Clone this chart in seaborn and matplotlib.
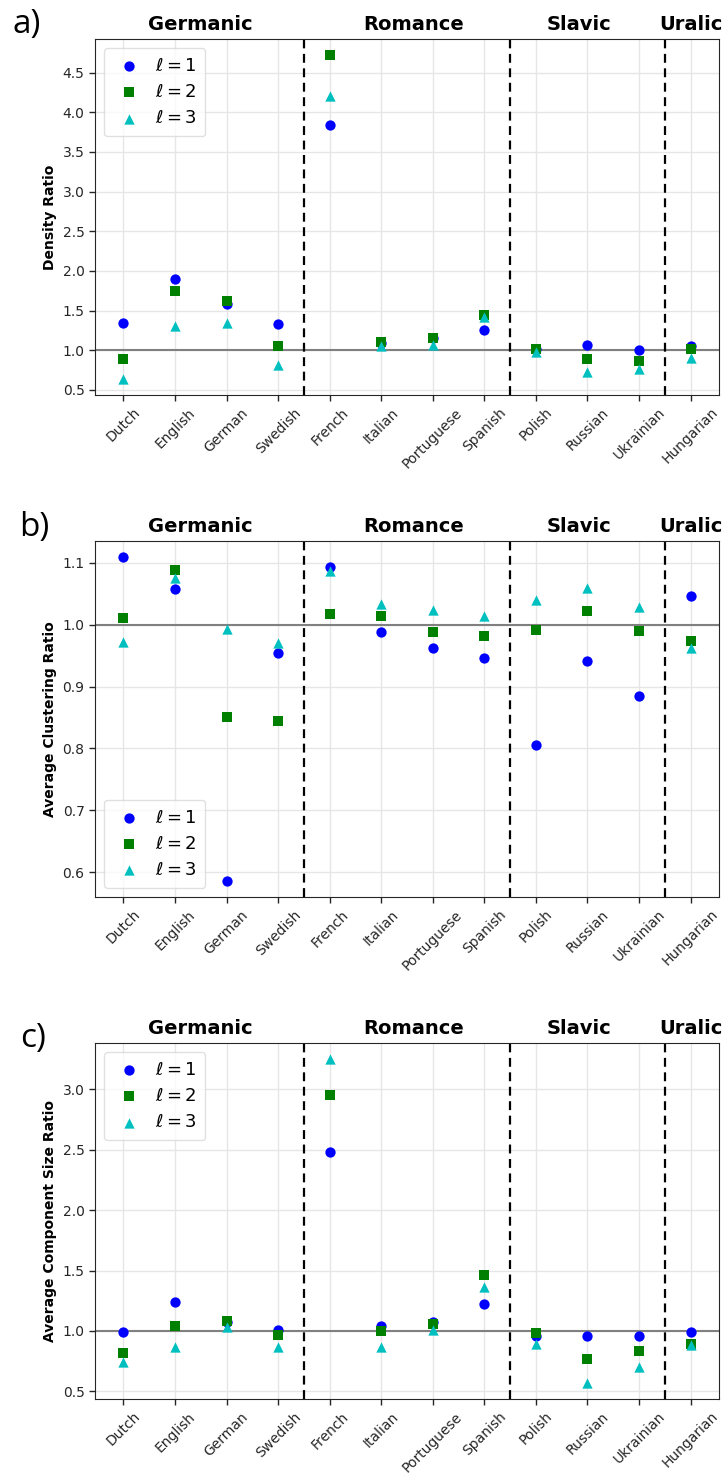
import numpy as np
import pandas as pd
import matplotlib
matplotlib.use("Agg")
import matplotlib.pyplot as plt
import matplotlib.transforms as mtransforms
import seaborn as sns

languages = ["Dutch", "English", "German", "Swedish", "French", "Italian",
             "Portuguese", "Spanish", "Polish", "Russian", "Ukrainian", "Hungarian"]
families = ["Germanic", "Romance", "Slavic", "Uralic"]
family_label_x = [1.5, 5.63, 8.83, 11.0]
family_bounds = [3.5, 7.5, 10.5]
levels = [r"$\ell = 1$", r"$\ell = 2$", r"$\ell = 3$"]

density_l1 = [1.34, 1.90, 1.58, 1.33, 3.84, 1.09, 1.15, 1.26, 1.02, 1.07, 1.00, 1.05]
density_l2 = [0.89, 1.75, 1.62, 1.05, 4.72, 1.10, 1.15, 1.44, 1.02, 0.89, 0.87, 1.01]
density_l3 = [0.64, 1.31, 1.34, 0.81, 4.21, 1.05, 1.07, 1.42, 0.98, 0.72, 0.77, 0.90]

cluster_l1 = [1.109, 1.057, 0.586, 0.954, 1.093, 0.988, 0.962, 0.946, 0.806, 0.941, 0.884, 1.047]
cluster_l2 = [1.010, 1.088, 0.850, 0.844, 1.017, 1.014, 0.988, 0.982, 0.992, 1.022, 0.989, 0.973]
cluster_l3 = [0.972, 1.076, 0.993, 0.971, 1.087, 1.034, 1.023, 1.014, 1.040, 1.059, 1.029, 0.963]

comp_l1 = [0.99, 1.24, 1.07, 1.01, 2.48, 1.04, 1.07, 1.22, 0.96, 0.96, 0.96, 0.99]
comp_l2 = [0.82, 1.04, 1.08, 0.97, 2.95, 1.00, 1.06, 1.46, 0.98, 0.77, 0.83, 0.89]
comp_l3 = [0.74, 0.87, 1.03, 0.87, 3.25, 0.87, 1.01, 1.36, 0.89, 0.57, 0.70, 0.88]

panels = [
    ("a)", "Density Ratio", [density_l1, density_l2, density_l3], "upper left"),
    ("b)", "Average Clustering Ratio", [cluster_l1, cluster_l2, cluster_l3], "lower left"),
    ("c)", "Average Component Size Ratio", [comp_l1, comp_l2, comp_l3], "upper left"),
]

colors = ["#0000ff", "#008000", "#00bfbf"]
markers = ["o", "s", "^"]

sns.set_style("whitegrid", {
    "axes.edgecolor": "0.15",
    "axes.linewidth": 1.0,
    "grid.color": "0.9",
    "xtick.bottom": True,
    "ytick.left": True,
    "xtick.color": "0.15",
    "ytick.color": "0.15",
    "text.color": "black",
})
plt.rcParams["font.family"] = ["DejaVu Sans"]

fig = plt.figure(figsize=(7.24, 14.73), dpi=100)
W, H = 724, 1473
left_px, right_px = 95, 719
tops = [39, 541, 1043]
height_px = 356
letter_pos = [(12, 33), (19, 536), (20, 1047)]

for (letter, ylabel, series, loc), top, lp in zip(panels, tops, letter_pos):
    ax = fig.add_axes([left_px / W, 1 - (top + height_px) / H,
                       (right_px - left_px) / W, height_px / H])
    for vals, lab, c, m in zip(series, levels, colors, markers):
        df = pd.DataFrame({"lang": languages, "val": vals})
        sns.scatterplot(data=df, x="lang", y="val", ax=ax, color=c, marker=m,
                        s=55, linewidth=0, label=lab, zorder=3)
    ax.axhline(1.0, color="0.5", lw=1.5, zorder=2)
    for b in family_bounds:
        ax.axvline(b, color="black", ls="--", lw=1.6, dashes=(4, 2.5), zorder=2)
    ax.set_xlim(-0.55, 11.55)
    ax.set_xticks(range(len(languages)))
    ax.set_xticklabels(languages, rotation=45, ha="center", fontsize=10)
    ax.tick_params(axis="y", labelsize=10)
    ax.tick_params(axis="both", length=4, width=1)
    ax.set_xlabel("")
    ax.set_ylabel(ylabel, fontsize=10, fontweight="bold", color="black")
    ax.grid(True, color="0.9", lw=1)
    trans = mtransforms.blended_transform_factory(ax.transData, ax.transAxes)
    for fx, fam in zip(family_label_x, families):
        ax.text(fx, 1.024, fam, transform=trans, ha="center", va="baseline",
                fontsize=14, fontweight="bold", color="black")
    leg = ax.legend(loc=loc, fontsize=13, frameon=True, borderpad=0.5,
                    handletextpad=0.5, handlelength=1.8, labelspacing=0.45,
                    markerscale=1.0)
    leg.get_frame().set_edgecolor("0.85")
    fig.text(lp[0] / W, 1 - lp[1] / H, letter, fontsize=24,
             family=["Open Sans", "DejaVu Sans"], ha="left", va="baseline",
             color="black")

fig.savefig("out.png", dpi=100)
